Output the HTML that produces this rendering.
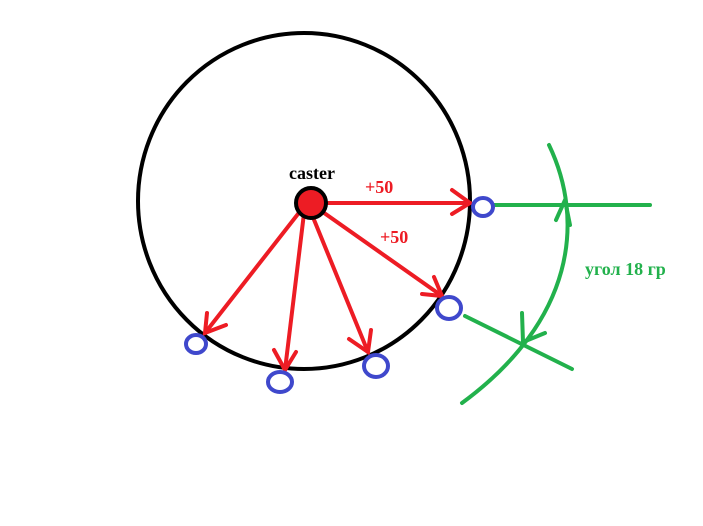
<!DOCTYPE html>
<html><head><style>body{margin:0;background:#fff}</style></head><body>
<svg width="703" height="521" viewBox="0 0 703 521" xmlns="http://www.w3.org/2000/svg">
<rect width="703" height="521" fill="#fff"/>
<ellipse cx="304" cy="201" rx="166" ry="168" fill="none" stroke="#000" stroke-width="4"/>
<g stroke="#22b14c" stroke-width="4" fill="none" stroke-linecap="round">
<path d="M549 145 C585 220, 575 320, 462 403"/>
<line x1="494" y1="205" x2="650" y2="205"/>
<line x1="465" y1="316" x2="572" y2="369"/>
<path d="M556 220 L565 200 L570 225"/>
<path d="M522 313 L523 342 L545 333"/>
</g>
<g stroke="#ed1c24" stroke-width="4" fill="none" stroke-linecap="round">
<line x1="310" y1="203" x2="470" y2="203"/>
<path d="M452 190 L470 203 L452 214"/>
<line x1="310" y1="203" x2="442" y2="296"/>
<path d="M422 294 L442 296 L434 277"/>
<line x1="305" y1="205" x2="205" y2="333"/>
<path d="M207 313 L205 333 L226 325"/>
<line x1="305" y1="205" x2="285" y2="370"/>
<path d="M274 350 L285 370 L296 352"/>
<line x1="308" y1="205" x2="368" y2="352"/>
<path d="M349 339 L368 352 L371 330"/>
</g>
<circle cx="311" cy="203" r="15" fill="#ed1c24" stroke="#000" stroke-width="4"/>
<g stroke="#3f48cc" stroke-width="4" fill="none">
<ellipse cx="483" cy="207" rx="10" ry="9"/>
<ellipse cx="449" cy="308" rx="12" ry="11"/>
<ellipse cx="196" cy="344" rx="10" ry="9"/>
<ellipse cx="280" cy="382" rx="12" ry="10"/>
<ellipse cx="376" cy="366" rx="12" ry="11"/>
</g>
<g font-family="Liberation Serif, serif" font-weight="bold" font-size="18">
<text x="289" y="179" fill="#000">caster</text>
<text x="365" y="193" fill="#ed1c24">+50</text>
<text x="380" y="243" fill="#ed1c24">+50</text>
<text x="585" y="275" fill="#22b14c">угол 18 гр</text>
</g>
</svg>
</body></html>
